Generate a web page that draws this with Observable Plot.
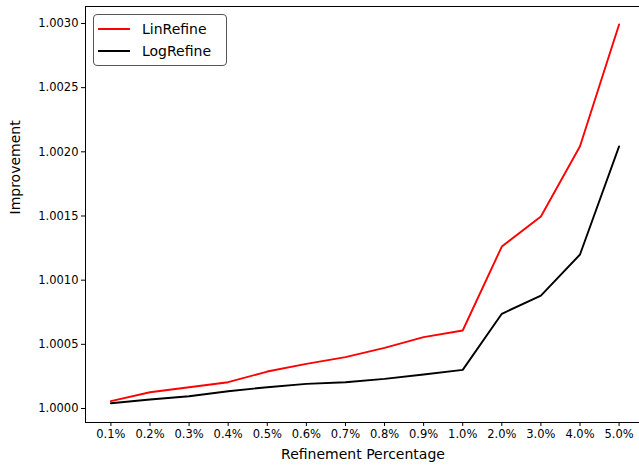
<!DOCTYPE html>
<html>
<head>
<meta charset="utf-8">
<script src="https://cdn.jsdelivr.net/npm/d3@7"></script>
<script src="https://cdn.jsdelivr.net/npm/@observablehq/plot@0.6"></script>
<style>
  body { margin: 0; background: #fff; }
  #wrap { position: relative; width: 639px; height: 467px; overflow: hidden; font-family: "DejaVu Sans", sans-serif; }
  #chart svg { max-width: none !important; }
  #legend { position: absolute; left: 93px; top: 14px; width: 134px; height: 52px; border: 1px solid #555; border-radius: 4px; background: rgba(255,255,255,0.85); font-size: 14px; font-family: "DejaVu Sans", sans-serif; box-sizing: border-box; }
  .row { position: absolute; left: 4px; height: 20px; display: flex; align-items: center; }
  .sw { width: 32px; height: 2px; margin-right: 12px; }
</style>
</head>
<body>
<div id="wrap">
  <div id="chart"></div>
  <div id="legend">
    <div class="row" style="top:4px"><div class="sw" style="background:#ff0000"></div><span>LinRefine</span></div>
    <div class="row" style="top:26px"><div class="sw" style="background:#000"></div><span>LogRefine</span></div>
  </div>
</div>
<script>
const categories = ["0.1%","0.2%","0.3%","0.4%","0.5%","0.6%","0.7%","0.8%","0.9%","1.0%","2.0%","3.0%","4.0%","5.0%"];
const linRefine = [1.000057,1.000127,1.000166,1.000205,1.000288,1.000348,1.000400,1.000473,1.000556,1.000608,1.001262,1.001496,1.002044,1.002992];
const logRefine = [1.000041,1.000070,1.000096,1.000135,1.000166,1.000192,1.000205,1.000231,1.000265,1.000301,1.000738,1.000880,1.001200,1.002042];
const yTicks = [1.0000,1.0005,1.0010,1.0015,1.0020,1.0025,1.0030];

const data = [];
categories.forEach((c, i) => {
  data.push({cat: c, value: linRefine[i], series: "LinRefine"});
});
categories.forEach((c, i) => {
  data.push({cat: c, value: logRefine[i], series: "LogRefine"});
});

const chart = Plot.plot({
  width: 645,
  height: 467,
  marginLeft: 85,
  marginRight: 1,
  marginTop: 6,
  marginBottom: 45,
  style: {fontFamily: "DejaVu Sans, sans-serif", fontSize: "11.5px", color: "#000", background: "#fff", overflow: "visible", maxWidth: "none"},
  x: {type: "point", domain: categories, padding: 0.65, round: false, label: null},
  y: {domain: [0.999891, 1.0031323], label: null},
  color: {domain: ["LinRefine","LogRefine"], range: ["#ff0000","#000000"]},
  marks: [
    Plot.axisX({ticks: categories, tickSize: 4, tickPadding: 3, label: null, fontSize: 11.5}),
    Plot.axisY({ticks: yTicks, tickFormat: d3.format(".4f"), tickSize: 4, tickPadding: 3, label: null, fontSize: 11.5}),
    Plot.frame({stroke: "#000", strokeWidth: 1}),
    Plot.line(data, {x: "cat", y: "value", z: "series", stroke: "series", strokeWidth: 1.9}),
    Plot.text(["Improvement"], {frameAnchor: "left", dx: -70, rotate: -90, fontSize: 14, fill: "#000"}),
    Plot.text(["Refinement Percentage"], {frameAnchor: "bottom", dy: 36, dx: -2, fontSize: 14, fill: "#000"})
  ]
});
document.getElementById("chart").appendChild(chart);
</script>
</body>
</html>
